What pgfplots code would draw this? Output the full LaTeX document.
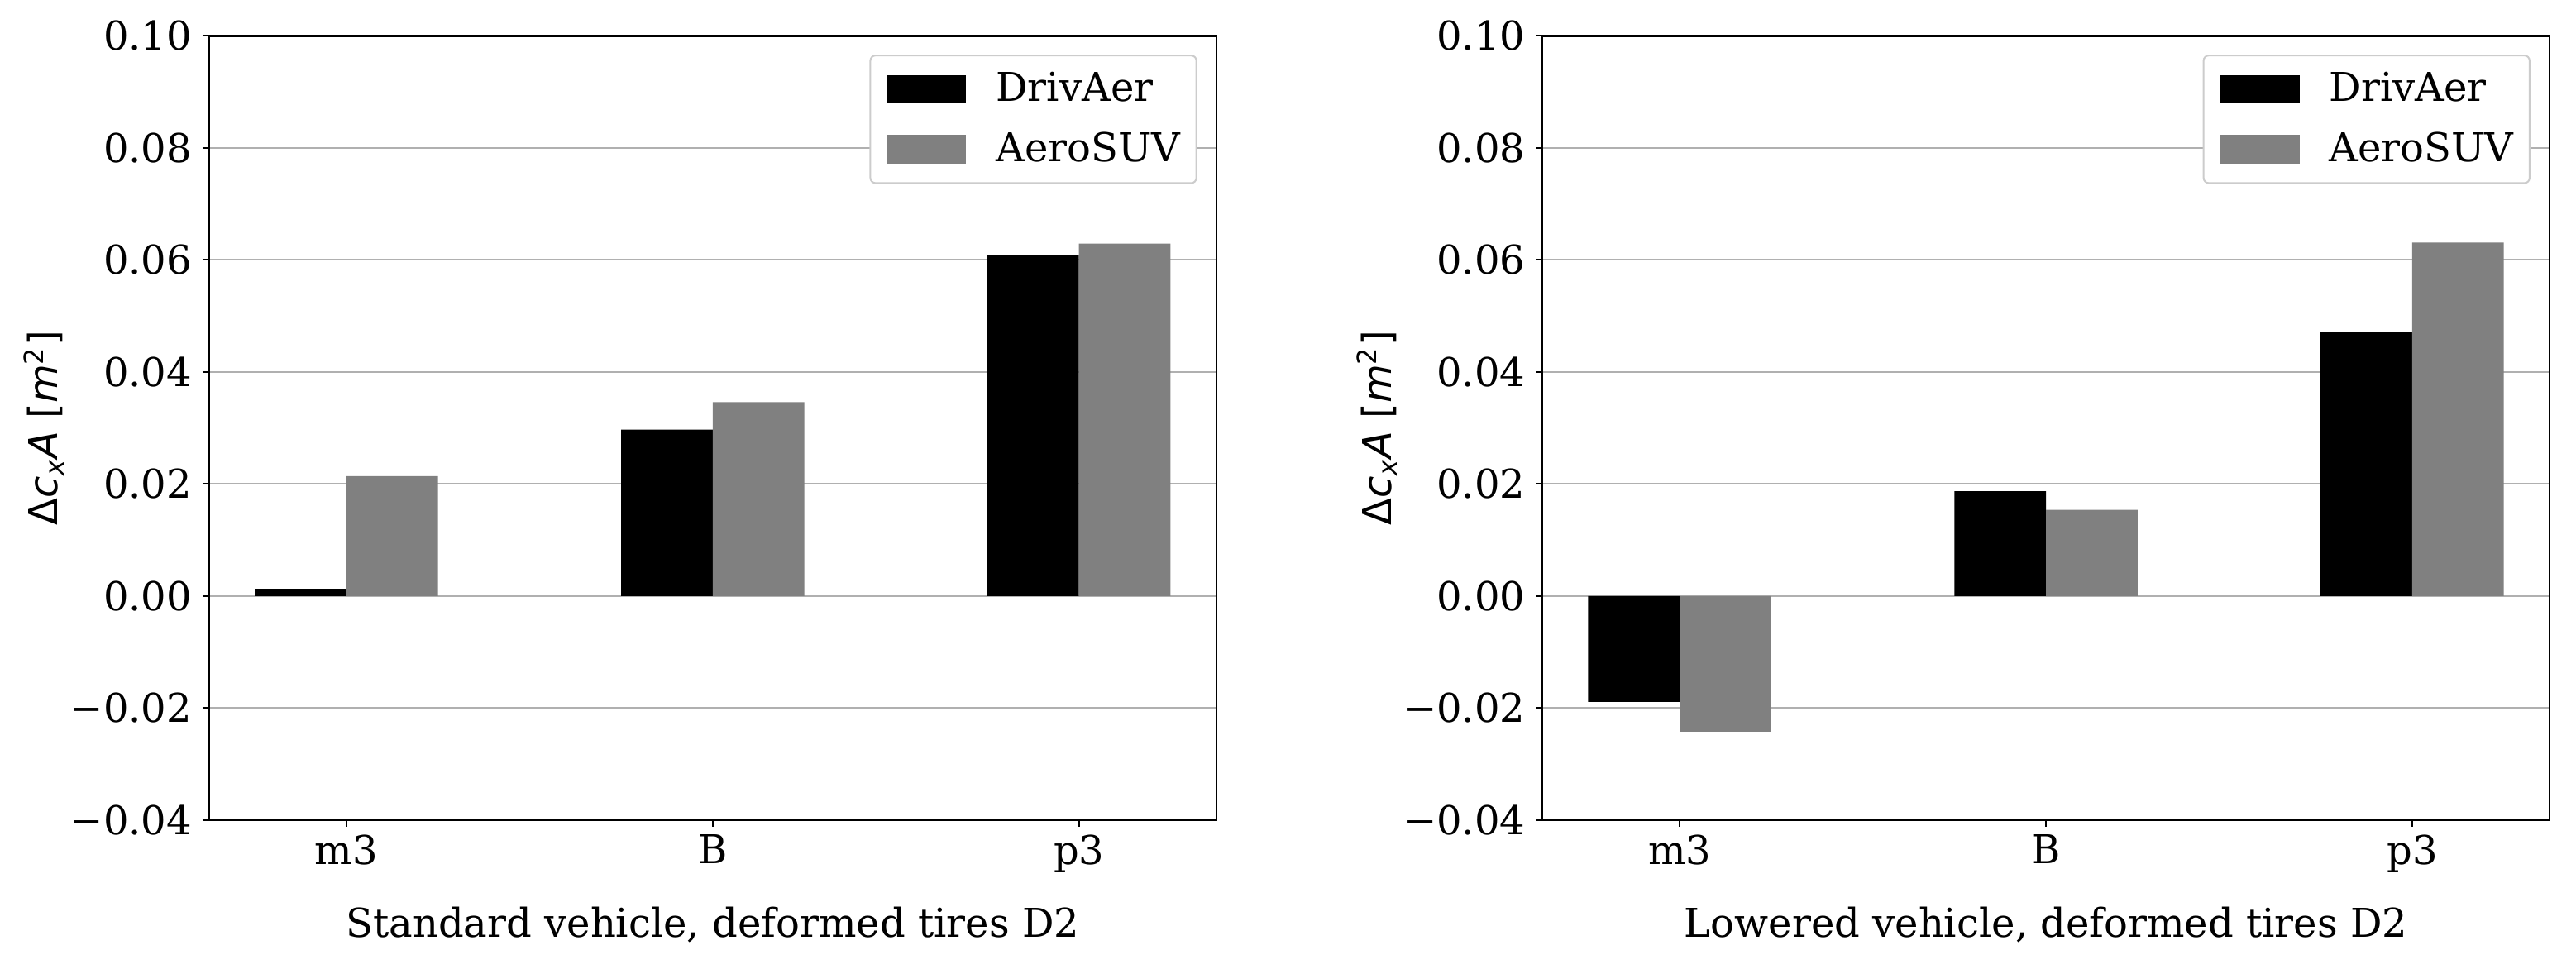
\documentclass[border=0pt]{standalone}
\usepackage{fontspec}
\setmainfont{DejaVu Serif}
\newfontfamily\dvs{DejaVu Sans}[ItalicFont={DejaVu Sans Oblique}]
\usepackage{pgfplots}
\pgfplotsset{compat=1.18}
\definecolor{barGray}{HTML}{808080}
\definecolor{gridGray}{HTML}{B0B0B0}
\definecolor{legGray}{HTML}{CCCCCC}
\newcommand{\fs}{\fontsize{12}{14}\selectfont}
\pgfplotsset{
  panel/.style={
    scale only axis, width=304.5pt, height=237.1pt, anchor=south west,
    xmin=-0.375, xmax=2.375, ymin=-0.04, ymax=0.10,
    xtick={0,1,2}, xticklabels={m3,B,p3},
    ytick={-0.04,-0.02,0,0.02,0.04,0.06,0.08,0.10},
    yticklabels={−0.04,−0.02,0.00,0.02,0.04,0.06,0.08,0.10},
    scaled y ticks=false,
    tick pos=left, tick align=outside, major tick length=2pt,
    ymajorgrids, grid style={gridGray, line width=0.5pt},
    axis line style={line width=0.6pt},
    every tick/.style={black, line width=0.5pt},
    ticklabel style={font=\fs},
    xticklabel style={inner ysep=2.25pt},
    yticklabel style={inner xsep=3pt},
    ylabel={{\dvs Δ\textit{c}\textsubscript{\textit{x}}\textit{A} [\textit{m}\textsuperscript{2}]}},
    every axis y label/.style={at={([xshift=-45.7pt]axis description cs:0,0.5)}, rotate=90, anchor=base, font=\fs},
    every axis x label/.style={at={([yshift=-35.5pt]axis description cs:0.5,0)}, anchor=base, font=\fs},
    ybar, bar width=0.25, bar shift=0pt,
    legend style={at={(1,1)}, anchor=north east, xshift=-5.8pt, yshift=-5.7pt,
      draw=legGray, fill=white, rounded corners=1.5pt, font=\fs, line width=0.5pt,
      nodes={inner sep=0pt}, inner xsep=4.8pt, inner ysep=5pt,
      row sep=7.8pt, column sep=9pt},
    legend cell align=left,
    legend image code/.code={\fill[##1, sharp corners] (0pt,-4.3pt) rectangle (24.2pt,4.3pt);},
  }
}
\begin{document}
\begin{tikzpicture}
\path[use as bounding box] (0,0) rectangle (778.75pt,292.75pt);
\begin{axis}[panel, at={(63.2pt,44.8pt)}, xlabel={Standard vehicle, deformed tires D2}]
\addplot[fill=black, draw=none] coordinates {(-0.125,0.0013) (0.875,0.0297) (1.875,0.0609)};
\addplot[fill=barGray, draw=none] coordinates {(0.125,0.0214) (1.125,0.0346) (2.125,0.0629)};
\legend{DrivAer, AeroSUV}
\end{axis}
\begin{axis}[panel, at={(466.25pt,44.8pt)}, xlabel={Lowered vehicle, deformed tires D2}]
\addplot[fill=black, draw=none] coordinates {(-0.125,-0.0189) (0.875,0.0187) (1.875,0.0472)};
\addplot[fill=barGray, draw=none] coordinates {(0.125,-0.0242) (1.125,0.0154) (2.125,0.0631)};
\legend{DrivAer, AeroSUV}
\end{axis}
\end{tikzpicture}
\end{document}
